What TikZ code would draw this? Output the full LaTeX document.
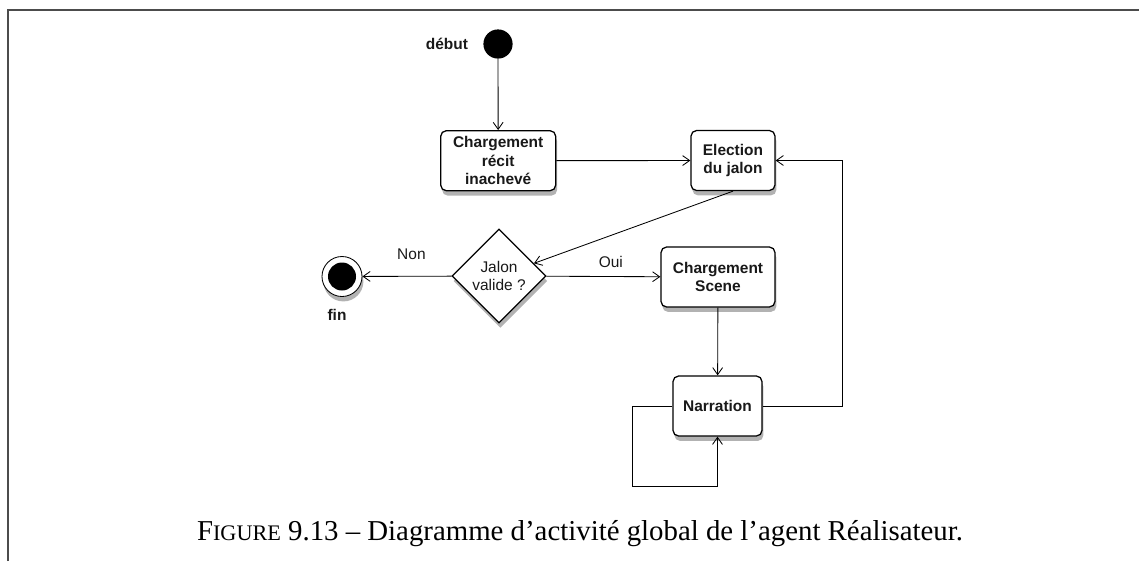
\documentclass[tikz,border=0pt]{standalone}
\usepackage{fontspec}
\setmainfont{Liberation Serif}
\setsansfont{Liberation Sans}
\usepackage{xcolor}
\usepackage{tikz}
\usetikzlibrary{arrows.meta,shapes.geometric,shadows}

\begin{document}
\begin{tikzpicture}[x=0.025cm, y=-0.025cm,
    txt/.style={font=\sffamily\fontsize{11}{13.2}\selectfont, text=black!90},
    boldtxt/.style={font=\sffamily\bfseries\fontsize{11}{13.2}\selectfont, text=black!90},
    shade/.style={drop shadow={shadow xshift=1pt, shadow yshift=-3.5pt, opacity=0.3, fill=black}},
    actbox/.style={boldtxt, draw, line width=0.9pt, rounded corners=4pt, fill=white, shade, align=center, minimum height=1.5cm, inner sep=2pt},
    decision/.style={txt, diamond, aspect=1, draw, line width=0.9pt, fill=white, shade, align=center, minimum width=2.35cm, minimum height=2.35cm, inner sep=0pt},
    flow/.style={-{Straight Barb[length=5pt,width=7pt]}, line width=0.6pt},
]
    \useasboundingbox (0,0) rectangle (1139,561);
    \draw[line width=1pt, black!70] (8,561) -- (8,10) -- (1139,10);

    \node[circle, fill=black, minimum size=0.73cm, inner sep=0pt] (debut) at (498,44) {};
    \node[boldtxt, anchor=east] (debutlbl) at (473,44) {début};
    \node[actbox, minimum width=2.875cm] (chargrecit) at (498.2,160.7) {Chargement\\récit\\inachevé};
    \node[actbox, minimum width=2.1cm] (election) at (733,160.5) {Election\\du jalon};
    \node[decision] (valide) at (499,276) {Jalon\\valide ?};
    \node[circle, draw, line width=0.6pt, fill=white, shade, minimum size=1cm, inner sep=0pt,
          path picture={\fill[black] (path picture bounding box.center) circle (0.35cm);}] (fin) at (342,276.5) {};
    \node[boldtxt] (finlbl) at (337,315) {fin};
    \node[actbox, minimum width=2.85cm] (scene) at (718,277) {Chargement\\Scene};
    \node[actbox, minimum width=2.225cm] (narration) at (717.5,406) {Narration};

    \coordinate (selfloop) at (632,486);
    \coordinate (backloop) at (842,160.5);

    \draw[flow] (debut) -- (chargrecit);
    \draw[flow] (chargrecit) -- (election);
    \draw[flow] (election.south) -- (valide);
    \draw[flow] (valide) -- node[txt, pos=0.45, above=8pt] {Non} (fin);
    \draw[flow] (valide) -- node[txt, pos=0.565, above=2.5pt] {Oui} (scene);
    \draw[flow] (scene) -- (narration);
    \draw[flow] (narration.west) -| (selfloop) -| (narration.south);
    \draw[flow] (narration.east) -| (backloop) -- (election.east);

    \node[font=\fontsize{20.5}{24}\selectfont, anchor=base] (caption) at (580,540)
        {F{\fontsize{15.8}{20}\selectfont IGURE} 9.13 – Diagramme d’activité global de l’agent Réalisateur.};
\end{tikzpicture}
\end{document}
